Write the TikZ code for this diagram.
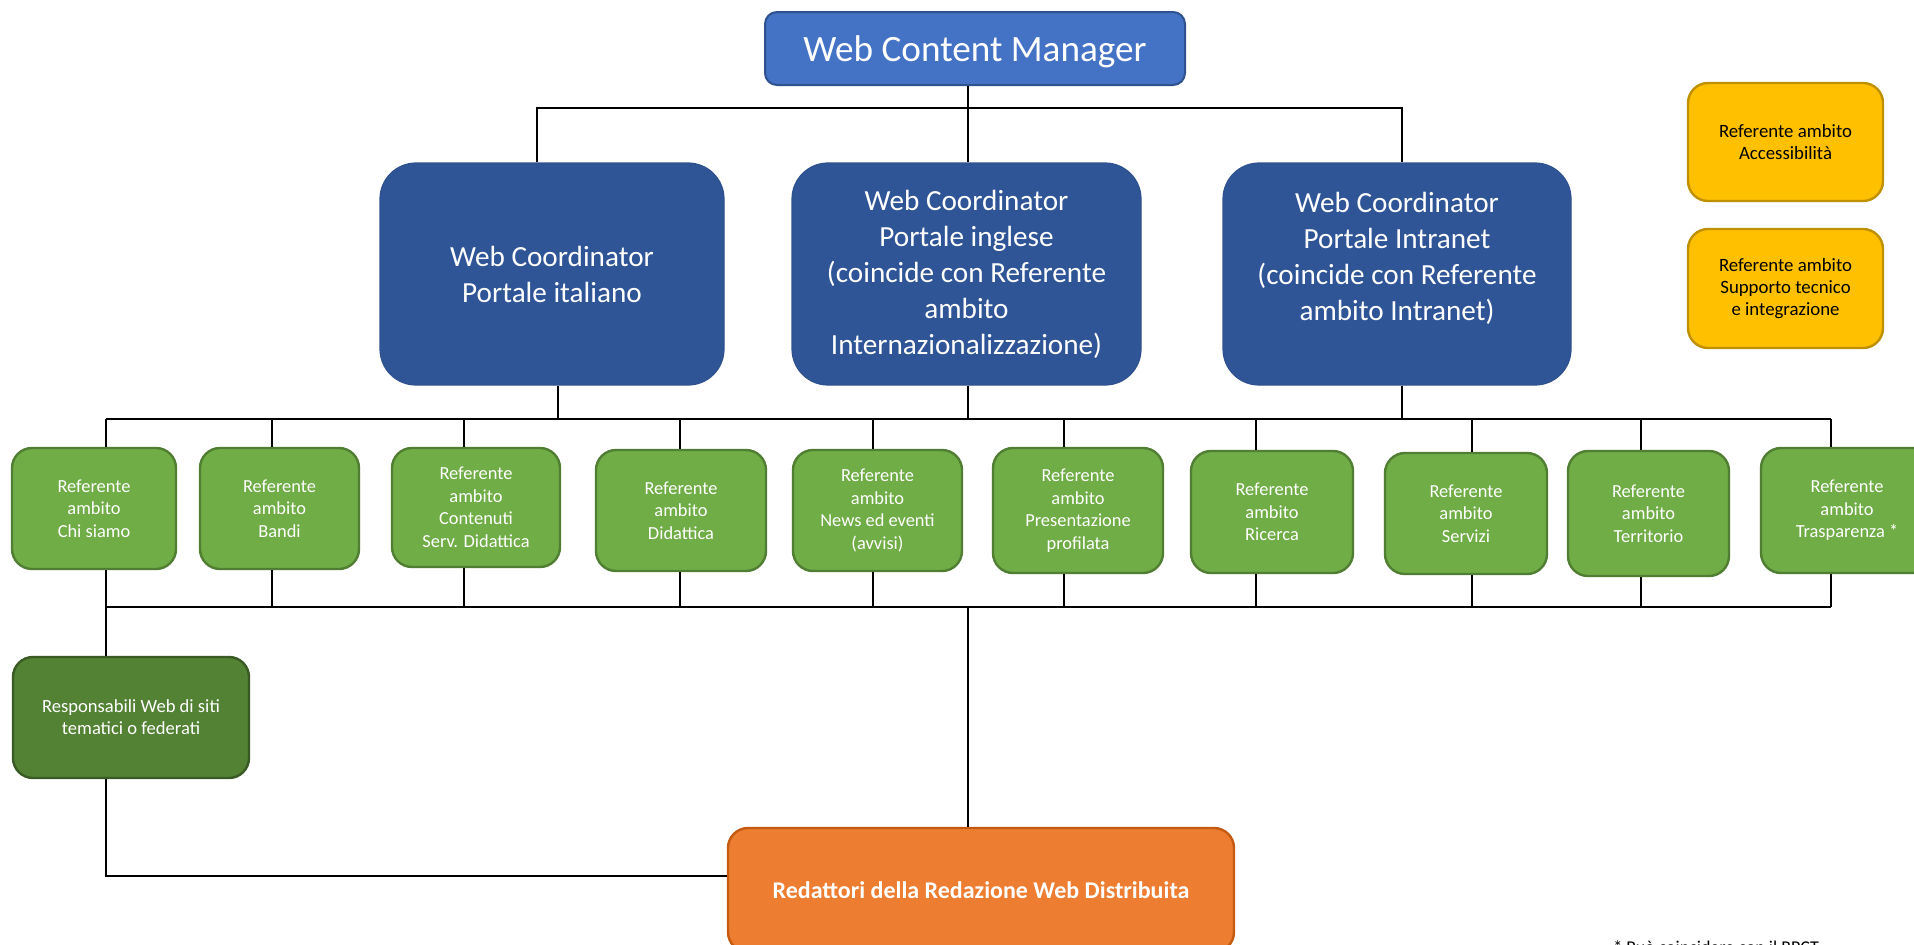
\documentclass[tikz,border=0pt]{standalone}
\usepackage{fontspec}
\setmainfont{Carlito}
\definecolor{wcmblue}{HTML}{4472C4}
\definecolor{wcmborder}{HTML}{2F528F}
\definecolor{coordblue}{HTML}{2F5597}
\definecolor{refgreen}{HTML}{70AD47}
\definecolor{refgreenb}{HTML}{507E32}
\definecolor{dkgreen}{HTML}{548235}
\definecolor{dkgreenb}{HTML}{3A5A24}
\definecolor{yel}{HTML}{FFC000}
\definecolor{yelb}{HTML}{BF9000}
\definecolor{orng}{HTML}{ED7D31}
\definecolor{orngb}{HTML}{C55A11}
\tikzset{
  basebox/.style={rectangle, rounded corners=10pt, align=center, inner sep=0pt, text=white},
  wcmbox/.style={basebox, fill=wcmblue, draw=wcmborder, line width=1pt, rounded corners=6pt, font=\fontsize{18.6}{22}\selectfont},
  coordbox/.style={basebox, fill=coordblue, draw=wcmborder, line width=0.6pt, rounded corners=18pt, font=\fontsize{14.6}{18}\selectfont},
  refbox/.style={basebox, fill=refgreen, draw=refgreenb, line width=1.2pt, font=\fontsize{9.2}{11.25}\selectfont},
  yelbox/.style={basebox, fill=yel, draw=yelb, line width=1.2pt, text=black, font=\fontsize{9.4}{11}\selectfont},
  respbox/.style={basebox, fill=dkgreen, draw=dkgreenb, line width=1.2pt, font=\fontsize{9.3}{11}\selectfont},
  redbox/.style={basebox, fill=orng, draw=orngb, line width=1.2pt, font=\bfseries\fontsize{12}{14}\selectfont},
  conn/.style={draw=black, line width=0.75pt},
  notetext/.style={inner sep=0pt, text=black, font=\fontsize{9}{11}\selectfont}
}
\begin{document}
\begin{tikzpicture}[x=0.5pt,y=-0.5pt]
\useasboundingbox (0,0) rectangle (1914,944);
\fill[white] (0,0) rectangle (1914,944);

% top
\node[wcmbox, minimum width=210pt, minimum height=36.5pt] (wcm) at (975,48.5) {\raisebox{-1.8pt}[\height][\depth]{Web Content Manager}};

% coordinators
\node[coordbox, minimum width=172pt, minimum height=111pt] (cit) at (552,274) {Web Coordinator\\Portale italiano};
\node[coordbox, minimum width=174.5pt, minimum height=111pt] (cen) at (966.5,274) {Web Coordinator\\Portale inglese\\(coincide con Referente\\ambito\\Internazionalizzazione)};
\node[coordbox, minimum width=174pt, minimum height=111pt] (cint) at (1397,274) {Web Coordinator\\Portale Intranet\\(coincide con Referente\\ambito Intranet)\\\mbox{}};

% yellow
\node[yelbox, minimum width=97.5pt, minimum height=59pt] (y1) at (1785.5,142) {Referente ambito\\Accessibilità};
\node[yelbox, minimum width=97.5pt, minimum height=59.5pt] (y2) at (1785.5,288.5) {Referente ambito\\Supporto tecnico\\e integrazione};

% green row
\node[refbox, minimum width=82pt, minimum height=60.5pt] (g1) at (94,508.5) {Referente\\ambito\\Chi siamo};
\node[refbox, minimum width=79.5pt, minimum height=60.5pt] (g2) at (279.5,508.5) {Referente\\ambito\\Bandi};
\node[refbox, minimum width=84pt, minimum height=59.5pt] (g3) at (476,507.5) {Referente\\ambito\\Contenuti\\Serv. Didattica};
\node[refbox, minimum width=85pt, minimum height=60.5pt] (g4) at (681,510.5) {Referente\\ambito\\Didattica};
\node[refbox, minimum width=84.5pt, minimum height=60.5pt] (g5) at (877.5,510.5) {Referente\\ambito\\News ed eventi\\(avvisi)};
\node[refbox, minimum width=85pt, minimum height=62.5pt] (g6) at (1078,510.5) {Referente\\ambito\\Presentazione\\profilata};
\node[refbox, minimum width=81pt, minimum height=61pt] (g7) at (1272,512) {Referente\\ambito\\Ricerca};
\node[refbox, minimum width=81pt, minimum height=60.5pt] (g8) at (1466,513.5) {Referente\\ambito\\Servizi};
\node[refbox, minimum width=80.5pt, minimum height=62.5pt] (g9) at (1648.5,513.5) {Referente\\ambito\\Territorio};
\node[refbox, minimum width=86pt, minimum height=62.5pt] (g10) at (1847,510.5) {Referente\\ambito\\Trasparenza *};

% lower
\node[respbox, minimum width=118pt, minimum height=60.5pt] (resp) at (131,717.5) {Responsabili Web di siti\\tematici o federati};
\node[redbox, minimum width=253pt, minimum height=62pt] (red) at (981,890) {Redattori della Redazione Web Distribuita};

\node[notetext, anchor=base west] (note) at (1613,953) {* Può coincidere con il RPCT};

% connectors
\draw[conn] (wcm.south -| 968,0) -- (968,108);
\draw[conn] (537,0 |- cit.north) -- (537,108) -- (1402,108) -- (1402,0 |- cint.north);
\draw[conn] (968,108) -- (968,0 |- cen.north);
\draw[conn] (558,0 |- cit.south) -- (558,419);
\draw[conn] (968,0 |- cen.south) -- (968,419);
\draw[conn] (1402,0 |- cint.south) -- (1402,419);
\draw[conn] (106,419) -- (1831,419);
\draw[conn] (106,607) -- (1831,607);
\foreach \n/\cx in {g1/106,g2/272,g3/464,g4/680,g5/873,g6/1064,g7/1256,g8/1472,g9/1641,g10/1831}{
  \draw[conn] (\cx,419) -- (\cx,0 |- \n.north);
  \draw[conn] (\cx,0 |- \n.south) -- (\cx,607);
}
\draw[conn] (106,607) -- (106,0 |- resp.north);
\draw[conn] (106,0 |- resp.south) -- (106,876) -- (red.west |- 0,876);
\draw[conn] (968,607) -- (968,0 |- red.north);
\end{tikzpicture}
\end{document}
